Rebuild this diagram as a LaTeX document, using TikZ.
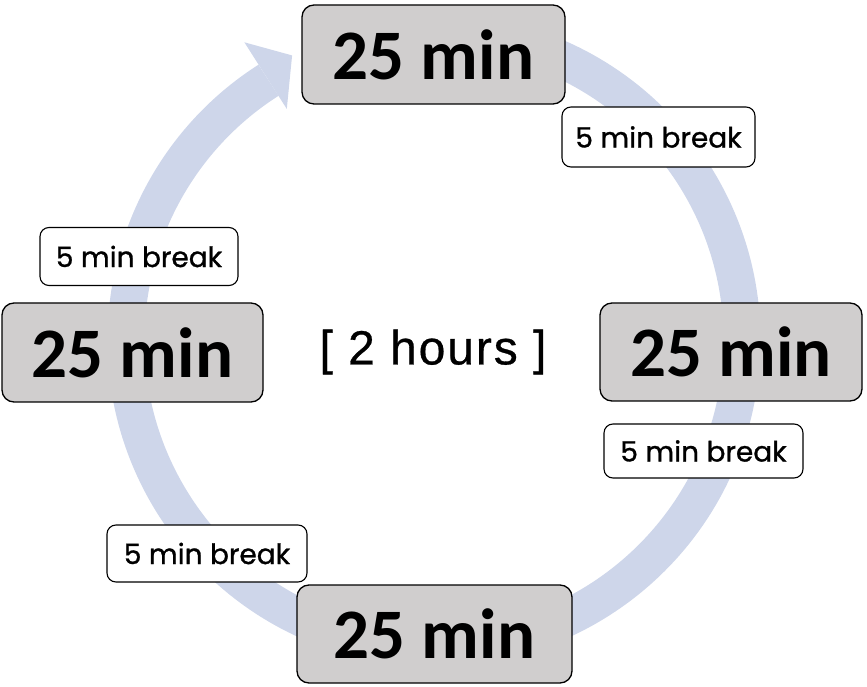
\documentclass[tikz,border=0pt]{standalone}
\usepackage{fontspec}
\setmainfont{Carlito}
\newfontfamily\breakfont{Poppins}[FakeBold=1]
\newfontfamily\hoursfont{Liberation Sans}[LetterSpace=4, FakeBold=0.6]
\usetikzlibrary{positioning}

\definecolor{ringblue}{RGB}{206,214,234}
\definecolor{blockgray}{RGB}{208,206,206}

\tikzset{
	block/.style={rectangle, draw, line width=1.3pt, rounded corners=12pt, fill=blockgray,
		minimum width=263pt, minimum height=99pt, align=center,
		font=\fontsize{71}{71}\selectfont\bfseries},
	pause/.style={rectangle, draw, line width=1.1pt, rounded corners=9pt, fill=white,
		minimum width=198pt, minimum height=58pt, align=center,
		font=\breakfont\fontsize{28}{28}\selectfont},
}

\begin{document}
\begin{tikzpicture}[x=1pt, y=1pt]
	\useasboundingbox (0,0) rectangle (867,686);

	% the ring with its arrow head
	\begin{scope}[shift={(434,346)}]
		\draw[ringblue, line width=37pt] (85:308pt) arc[start angle=85, end angle=-237.5, radius=308pt];
		\fill[ringblue] (122.5:274pt) -- (122.5:353pt) -- (116.5:318pt) -- cycle;
	\end{scope}

	% work blocks
	\node[block] (top) at (433.5,631.5) {25 min};
	\node[block, minimum width=261pt] (left) at (132.5,333.5) {25 min};
	\node[block, minimum width=262pt, minimum height=98pt] (right) at (731,334) {25 min};
	\node[block, minimum width=275pt, minimum height=98pt] (bottom) at (434.5,52) {25 min};

	% breaks
	\node[pause, minimum width=193pt, minimum height=60pt] (b1) at (658.5,549) {5 min break};
	\node[pause, minimum width=199pt, minimum height=54pt] (b2) at (703.5,235) {5 min break};
	\node[pause, minimum width=200pt, minimum height=57pt] (b3) at (207,132.5) {5 min break};
	\node[pause] (b4) at (139,429.5) {5 min break};

	\node[font=\hoursfont\fontsize{48}{48}\selectfont] (hours) at (433,334) {[ 2 hours ]};
\end{tikzpicture}
\end{document}
